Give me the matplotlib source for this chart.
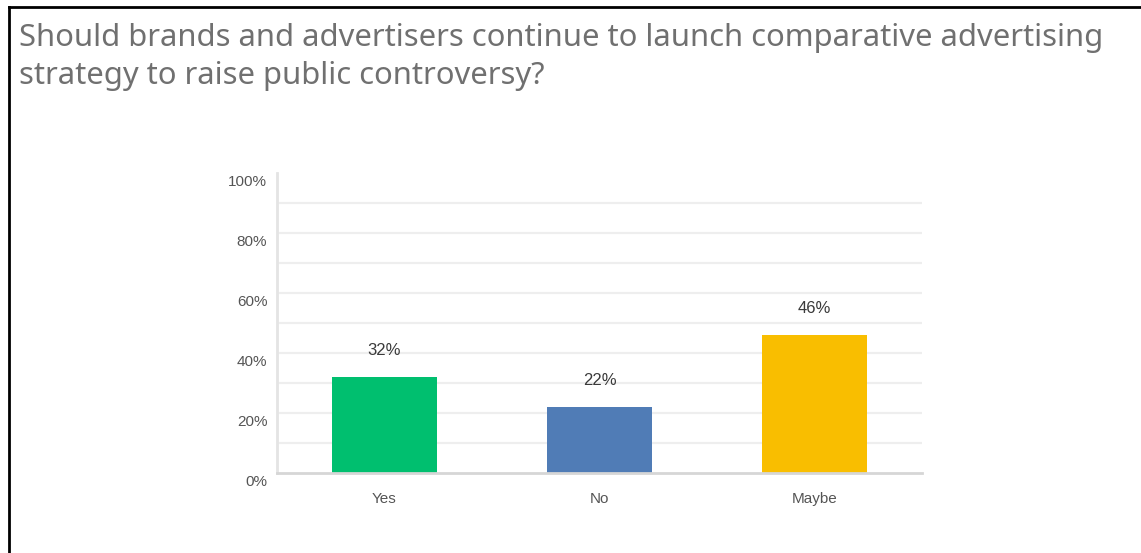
import numpy as np
import matplotlib.pyplot as plt
from matplotlib.lines import Line2D
from matplotlib.transforms import ScaledTranslation

question = 'Should brands and advertisers continue to launch comparative advertising\nstrategy to raise public controversy?'
answers = ['Yes', 'No', 'Maybe']
shares = [32, 22, 46]
bar_colors = ['#00bf6f', '#507cb6', '#f9be00']
y_ticks = [0, 20, 40, 60, 80, 100]
y_grid = [10, 20, 30, 40, 50, 60, 70, 80, 90]

W, H, DPI = 1141, 553, 100
fig = plt.figure(figsize=(W / DPI, H / DPI), dpi=DPI)
fig.patch.set_facecolor('white')

# frame lines along the top and left edge
fig.add_artist(Line2D([9 / W, 1], [1 - 7 / H, 1 - 7 / H], transform=fig.transFigure, color='black', lw=2))
fig.add_artist(Line2D([9 / W, 9 / W], [0, 1 - 7 / H], transform=fig.transFigure, color='black', lw=2))

fig.text(19 / W, 1 - 23 / H, question, ha='left', va='top', fontsize=22.3,
         family='Noto Sans', color='#707070', linespacing=1.36)

ax = fig.add_axes([277 / W, 80 / H, 645 / W, 300 / H])
x = np.arange(len(answers))
ax.bar(x, shares, width=0.485, color=bar_colors, zorder=3)
for xi, v in zip(x, shares):
    ax.text(xi, v + 8.8, f'{v}%', ha='center', va='center', fontsize=12,
            family='Liberation Sans', color='#3a3a3a')

ax.set_xlim(-0.5, 2.5)
ax.set_ylim(0, 100)
for g in y_grid:
    ax.axhline(g, color='#eeeeee', lw=1.6, zorder=1)

ax.set_yticks(y_ticks)
ax.set_yticklabels([f'{t}%' for t in y_ticks], family='Liberation Sans', fontsize=11, color='#555555')
ax.set_xticks(x)
ax.set_xticklabels(answers, family='Liberation Sans', fontsize=11, color='#555555')
ax.tick_params(axis='y', length=0, pad=7)
ax.tick_params(axis='x', length=0, pad=14)
shift = ScaledTranslation(0, -7 / DPI, fig.dpi_scale_trans)
for lab in ax.get_yticklabels():
    lab.set_transform(lab.get_transform() + shift)

for s in ['top', 'right']:
    ax.spines[s].set_visible(False)
ax.spines['left'].set_color('#e4e4e4')
ax.spines['left'].set_linewidth(2)
ax.spines['bottom'].set_color('#d6d6d6')
ax.spines['bottom'].set_linewidth(2)
ax.spines['bottom'].set_zorder(4)

fig.savefig('out.png', dpi=DPI)
